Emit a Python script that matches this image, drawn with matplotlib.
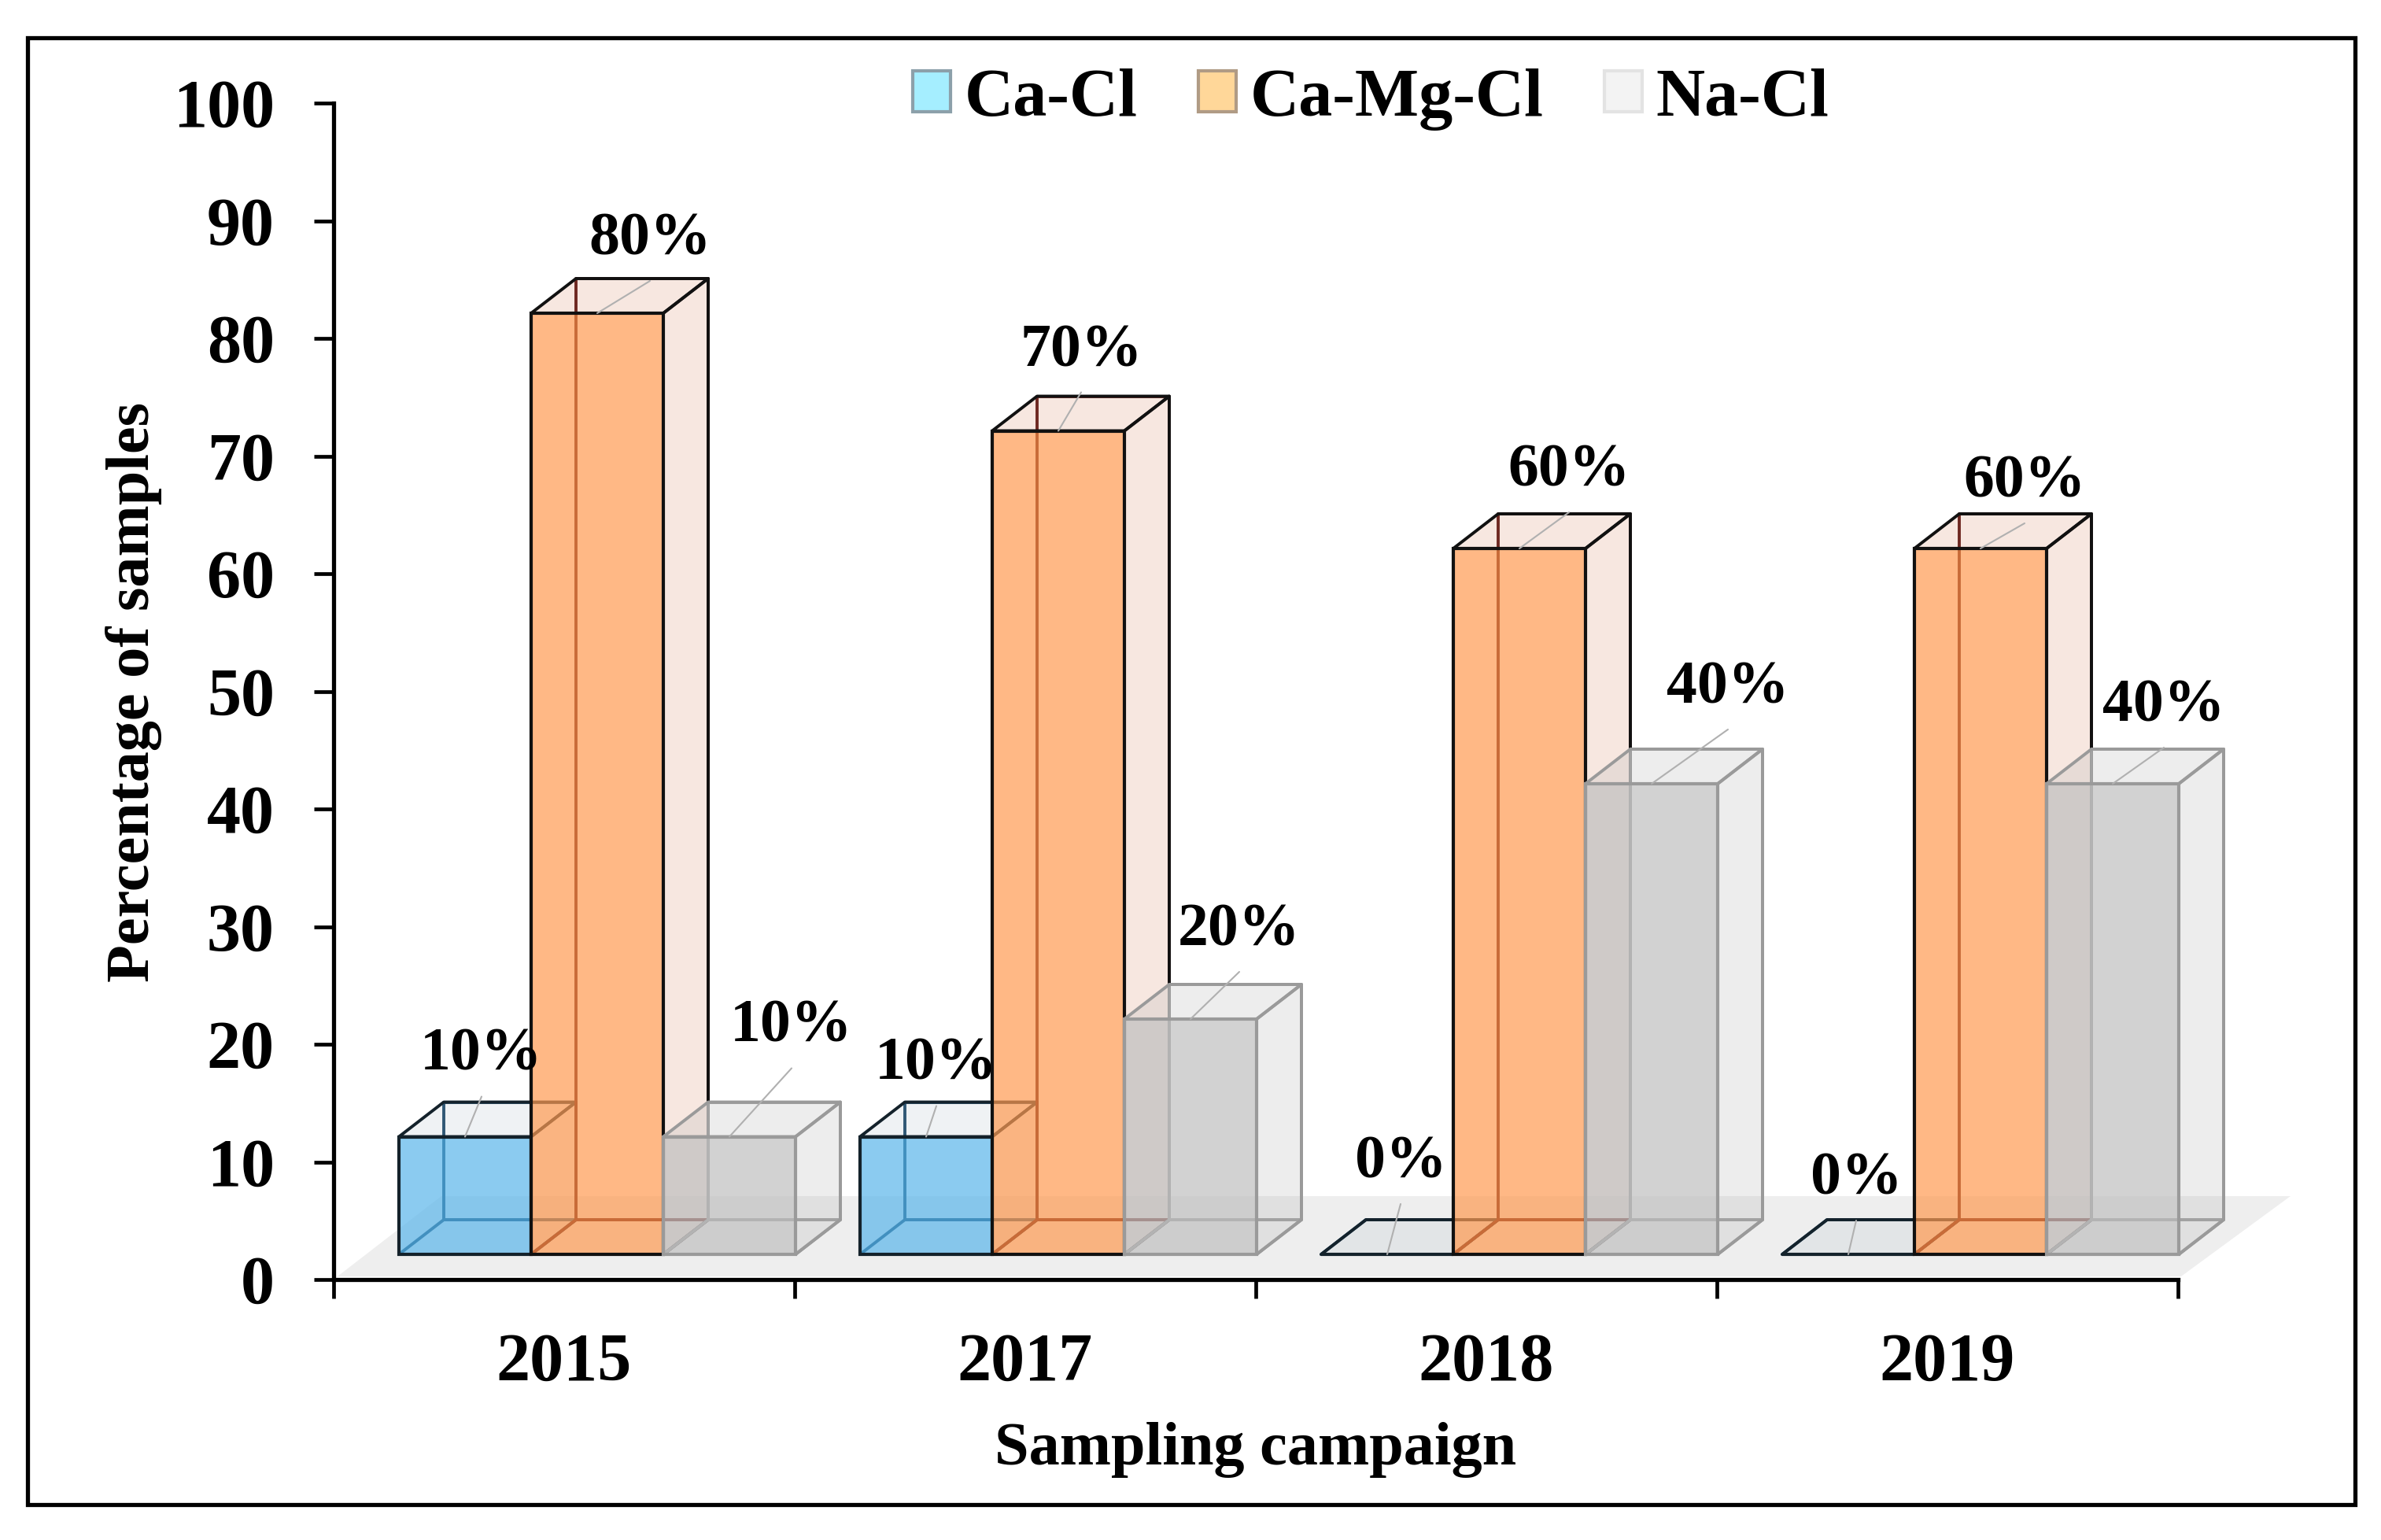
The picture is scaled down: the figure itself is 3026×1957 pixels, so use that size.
import matplotlib
matplotlib.use("Agg")
import matplotlib.pyplot as plt
from matplotlib.patches import Polygon, Patch, Rectangle

plt.rcParams['font.family'] = ['Liberation Serif', 'DejaVu Serif']
plt.rcParams['font.weight'] = 'bold'

# ---------- data ----------
campaigns = ['2015', '2017', '2018', '2019']
ca_cl = [10, 10, 0, 0]
ca_mg_cl = [80, 70, 60, 60]
na_cl = [10, 20, 40, 40]
series_names = ['Ca-Cl', 'Ca-Mg-Cl', 'Na-Cl']

# ---------- style / layout ----------
W, H = 3026, 1957
AX_L, AX_R, AX_T, AX_B = 424, 2768, 131, 1626
PX_X = (AX_R - AX_L) / 4.0      # pixels per category
PX_Y = (AX_B - AX_T) / 100.0    # pixels per percent
BASE = 32 / PX_Y                # 3-D floor offset of the bars
BAR_W = 168 / PX_X
BAR_START = 83 / PX_X
DX = 57 / PX_X
DY = 44 / PX_Y

styles = [
    dict(front=(90/255, 181/255, 234/255, 0.70), side=(0.72, 0.78, 0.82, 0.22), edge='#14222B', back='#0A3A5C'),
    dict(front=(255/255, 154/255, 81/255, 0.70), side=(0.88, 0.63, 0.53, 0.25), edge='#111111', back='#490000'),
    dict(front=(191/255, 191/255, 191/255, 0.70), side=(0.73, 0.73, 0.73, 0.25), edge='#9A9A9A', back='#9A9A9A'),
]
legend_styles = [('#A5EEFF', '#8CA0AA'), ('#FFD799', '#B09B85'), ('#F3F3F3', '#E3E3E3')]

# label offsets from the bar's front-top centre, in pixels (x right, y up)
label_offsets = [
    [(21, 103), (67, 93), (79, 139)],
    [(13, 91), (29, 101), (62, 112)],
    [(17, 116), (63, 98), (97, 121)],
    [(10, 95), (56, 84), (65, 98)],
]
LEADER_GAP = 52

fig = plt.figure(figsize=(W / 100, H / 100), dpi=100, facecolor='white')
ax = fig.add_axes([AX_L / W, 1 - AX_B / H, (AX_R - AX_L) / W, (AX_B - AX_T) / H])
ax.set_xlim(0, len(campaigns))
ax.set_ylim(0, 100)

# outer frame
fig.add_artist(Rectangle((35 / W, 1 - 1912 / H), (2993 - 35) / W, (1912 - 48) / H,
                         transform=fig.transFigure, fill=False, edgecolor='black', linewidth=3.8))

# floor
floor_front_y = 4 / PX_Y
floor_back_y = 106 / PX_Y
floor = Polygon([(5 / PX_X, floor_front_y), (4 + 4 / PX_X, floor_front_y),
                 (4 + 143 / PX_X, floor_back_y), (137 / PX_X, floor_back_y)],
                closed=True, facecolor='#EEEEEE', edgecolor='none', clip_on=False, zorder=1)
ax.add_patch(floor)


def draw_box(x, value, st):
    top = BASE + value
    w = BAR_W
    edge_kw = dict(closed=True, clip_on=False, linewidth=2.8, joinstyle='round')
    # back, bottom, top and right faces, then the front face over them
    ax.add_patch(Polygon([(x + DX, BASE + DY), (x + w + DX, BASE + DY), (x + w + DX, top + DY), (x + DX, top + DY)],
                         facecolor=(1, 1, 1, 0), edgecolor=st['back'], **edge_kw))
    ax.add_patch(Polygon([(x, BASE), (x + DX, BASE + DY), (x + w + DX, BASE + DY), (x + w, BASE)],
                         facecolor=(1, 1, 1, 0), edgecolor=st['back'], **edge_kw))
    ax.add_patch(Polygon([(x, top), (x + DX, top + DY), (x + w + DX, top + DY), (x + w, top)],
                         facecolor=st['side'], edgecolor=st['edge'], **edge_kw))
    ax.add_patch(Polygon([(x + w, BASE), (x + w + DX, BASE + DY), (x + w + DX, top + DY), (x + w, top)],
                         facecolor=st['side'], edgecolor=st['edge'], **edge_kw))
    ax.bar(x, value, width=w, bottom=BASE, align='edge', color=[st['front']],
           edgecolor=st['edge'], linewidth=3.0, clip_on=False)


all_series = [ca_cl, ca_mg_cl, na_cl]
for s, values in enumerate(all_series):
    for c, v in enumerate(values):
        draw_box(c + BAR_START + s * BAR_W, v, styles[s])

# leaders and value labels
for s, values in enumerate(all_series):
    for c, v in enumerate(values):
        xc = c + BAR_START + (s + 0.5) * BAR_W
        yc = BASE + v
        ox, oy = label_offsets[c][s]
        ax.annotate('', xy=(xc, yc), xytext=(ox, oy - LEADER_GAP), textcoords='offset pixels',
                    xycoords='data',
                    arrowprops=dict(arrowstyle='-', color='#B0B0B0', lw=1.5, shrinkA=0, shrinkB=0),
                    annotation_clip=False)
        ax.annotate(f'{v}%', xy=(xc, yc), xytext=(ox, oy), textcoords='offset pixels',
                    ha='center', va='center', fontsize=56, fontweight='bold', color='black',
                    annotation_clip=False, zorder=6)

# axes
for name in ['top', 'right']:
    ax.spines[name].set_visible(False)
for name in ['left', 'bottom']:
    ax.spines[name].set_linewidth(3.8)
ax.patch.set_alpha(0)
ax.set_yticks(range(0, 101, 10))
ax.tick_params(axis='y', which='major', direction='out', length=18, width=3.4, pad=36, labelsize=62)
ax.set_xticks(range(len(campaigns) + 1))
ax.set_xticklabels([])
ax.tick_params(axis='x', which='major', direction='out', length=17, width=3.4)
ax.set_xticks([i + 0.5 for i in range(len(campaigns))], minor=True)
ax.set_xticklabels(campaigns, minor=True)
ax.tick_params(axis='x', which='minor', length=0, pad=49, labelsize=62)

ax.set_xlabel('Sampling campaign', fontsize=56.3, fontweight='bold', va='center')
ax.xaxis.set_label_coords(0.5, -(1843 - AX_B) / (AX_B - AX_T))
ax.set_ylabel('Percentage of samples', fontsize=56.3, fontweight='bold', va='center')
ax.yaxis.set_label_coords((170 - AX_L) / (AX_R - AX_L), (AX_B - 880) / (AX_B - AX_T))

# legend
handles = [Patch(facecolor=f, edgecolor=e, linewidth=3, label=n)
           for n, (f, e) in zip(series_names, legend_styles)]
fig.legend(handles=handles, ncol=3, loc='center left', bbox_to_anchor=(1160 / W, 1 - 126 / H),
           frameon=False, fontsize=62, handlelength=0.56, handleheight=0.56,
           handletextpad=0.20, columnspacing=0.9, borderpad=0, borderaxespad=0)

fig.savefig('out.png', dpi=100, facecolor='white')
